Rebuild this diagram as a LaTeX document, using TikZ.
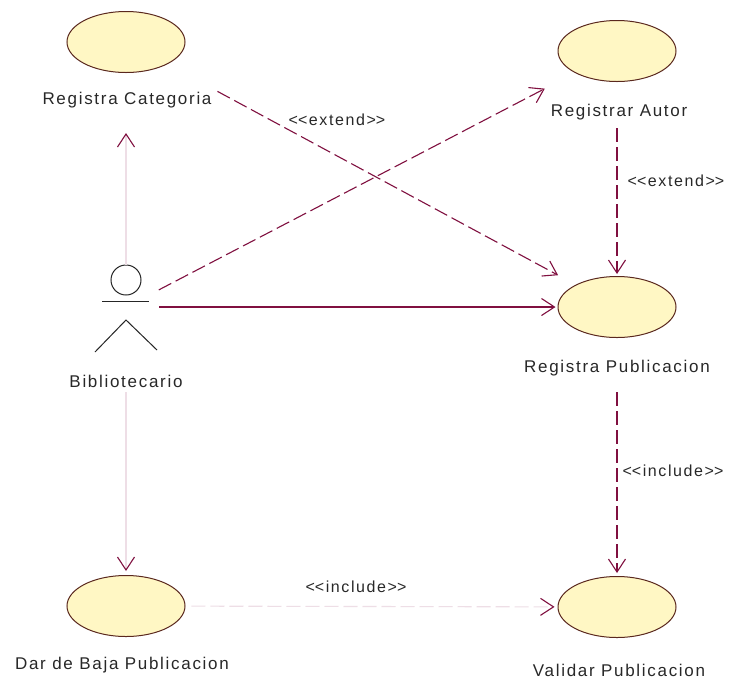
\documentclass[tikz,border=0pt]{standalone}
\usepackage{fontspec}
\setmainfont{Liberation Sans}[LetterSpace=10]
\usetikzlibrary{shapes.geometric,arrows.meta}
\definecolor{rosered}{RGB}{128,16,64}
\definecolor{caseline}{RGB}{90,40,30}
\definecolor{casefill}{RGB}{255,247,196}
\definecolor{faintline}{RGB}{238,222,230}
\definecolor{ink}{RGB}{40,40,40}
\newcommand\stlt{<\kern0pt<}
\newcommand\stgt{>\kern0pt>}
\tikzset{
  usecase/.style={ellipse,draw=caseline,fill=casefill,line width=1pt,
    minimum width=118pt,minimum height=61pt,inner sep=0pt},
  caselabel/.style={text=ink,font=\fontsize{17}{20}\selectfont,inner sep=0pt},
  stereolabel/.style={text=ink,font=\fontsize{16}{19}\selectfont,inner sep=0pt},
  openarrow/.style={-{Straight Barb[length=13pt,width=17pt,line width=1.1pt]}},
  assoc/.style={rosered,line width=1.1pt,openarrow},
  dep/.style={assoc,dash pattern=on 14pt off 5pt},
  faintassoc/.style={faintline,line width=1.1pt,
    -{Straight Barb[length=13pt,width=17pt,line width=1.1pt,color=rosered]}},
  faintdep/.style={faintassoc,dash pattern=on 14pt off 5pt},
  actorline/.style={draw=black!85,line width=1pt}
}
\begin{document}
\begin{tikzpicture}[x=1pt,y=-1pt]
\useasboundingbox[fill=white] (0,0) rectangle (734,681);
\node[usecase] (cat) at (126,42) {};
\node[usecase] (aut) at (617,51) {};
\node[usecase] (pub) at (617,307) {};
\node[usecase] (baja) at (126,606) {};
\node[usecase] (val) at (617,607) {};
\node[caselabel] (catlbl) at (127,100) {Registra Categoria};
\node[caselabel] (autlbl) at (619,112) {Registrar Autor};
\node[caselabel] (publbl) at (617,368) {Registra Publicacion};
\node[caselabel] (bajalbl) at (122,665) {Dar de Baja Publicacion};
\node[caselabel] (vallbl) at (619,670) {Validar Publicacion};
\node[caselabel] (biblbl) at (126,381) {Bibliotecario};
\coordinate (bib) at (126,307);
\draw[actorline] (126,280) circle (15pt);
\draw[actorline] (102,301) -- (149,301);
\draw[actorline] (95,352) -- (126,320) -- (157,350);
\draw[faintassoc,shorten <=42pt,shorten >=60pt] (bib) -- (cat);
\draw[faintassoc,shorten <=85pt,shorten >=4pt] (bib) -- (baja);
\draw[assoc,shorten <=33pt,shorten >=2pt] (bib) -- (pub);
\draw[dep,shorten <=37pt,shorten >=34pt] (bib) -- (aut);
\draw[dep,shorten <=57pt,shorten >=20pt] (cat) -- (pub);
\draw[dep,shorten <=46pt,shorten >=2pt] (aut) -- (pub);
\draw[dep,shorten <=54pt,shorten >=3pt] (pub) -- (val);
\draw[faintdep,shorten <=6pt,shorten >=3pt] (baja) -- (val);
\node[stereolabel] (catext) at (337,120) {\stlt extend\stgt};
\node[stereolabel] (autext) at (676,181) {\stlt extend\stgt};
\node[stereolabel] (valinc) at (673,471) {\stlt include\stgt};
\node[stereolabel] (bajainc) at (356,587) {\stlt include\stgt};
\end{tikzpicture}
\end{document}
